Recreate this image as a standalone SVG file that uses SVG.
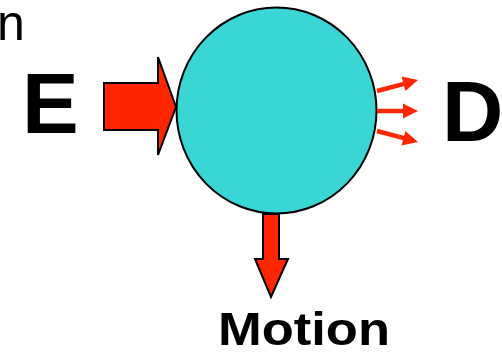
<svg xmlns="http://www.w3.org/2000/svg" width="502" height="354" viewBox="0 0 502 354">
<defs>
<style>
.lbl{font-family:"Liberation Sans",Arial,sans-serif;font-weight:bold;fill:#000}
.arr{fill:#FF2600;stroke:#000;stroke-width:2;stroke-linejoin:miter}
.ray{stroke:#FF2600;stroke-width:4.5;fill:none}
.head{fill:#FF2600}
</style>
</defs>
<rect width="502" height="354" fill="#fff"/>
<text x="-3" y="40" font-family="Liberation Sans,Arial,sans-serif" font-size="50" fill="#000">n</text>
<g id="body">
<ellipse cx="276.5" cy="110.5" rx="100" ry="103" fill="#3AD5D5" stroke="#000" stroke-width="2"/>
</g>
<g id="connectors">
<path class="arr" d="M104,83 L158,83 L158,57 L176,107 L158,155 L158,130 L104,130 Z"/>
<path class="arr" d="M263,214 L279,214 L279,259 L288,259 L271,297 L255,259 L263,259 Z"/>
<line class="ray" x1="377" y1="91" x2="405" y2="83.6"/>
<polygon class="head" points="418,80 405.4,91.1 401.6,76.6"/>
<line class="ray" x1="377" y1="111" x2="405" y2="111"/>
<polygon class="head" points="418,111 403,103.5 403,118.5"/>
<line class="ray" x1="377" y1="131" x2="405" y2="138.4"/>
<polygon class="head" points="418,142 401.6,145.4 405.4,130.9"/>
</g>
<g id="E"><text class="lbl" x="22" y="133" font-size="85">E</text></g>
<g id="D"><text class="lbl" x="442" y="141" font-size="85">D</text></g>
<g id="Motion"><text class="lbl" x="218" y="345" font-size="47" textLength="172" lengthAdjust="spacingAndGlyphs">Motion</text></g>
</svg>
